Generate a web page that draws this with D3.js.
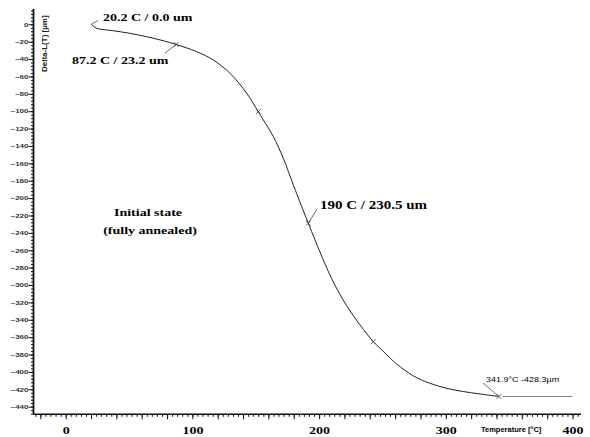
<!DOCTYPE html>
<html>
<head>
<meta charset="UTF-8">
<script src="https://d3js.org/d3.v7.min.js"></script>
<style>
  body { margin: 0; background: #fff; }
  svg { display: block; }
  .serif { font-family: "Liberation Serif", "Times New Roman", serif; font-weight: bold; }
  .sans { font-family: "Liberation Sans", Arial, sans-serif; }
</style>
</head>
<body>
<svg id="chart" width="590" height="437"></svg>
<script>
// dilatometer curve
const tempC  = [20.2, 24.5, 37.6, 50.7, 63.9, 77.0, 87.2, 103.4, 116.5, 129.7, 142.9, 152.0, 156.0, 163.9, 171.7, 179.6, 186.3, 191.5, 196.8, 203.3, 211.2, 221.8, 232.3, 242.8, 248.1, 256.0, 261.2, 274.3, 287.5, 300.7, 313.8, 327.0, 341.9];
const deltaL = [0, -4.6, -7.4, -10.4, -14.3, -18.9, -23.2, -31.5, -41.1, -56.4, -79.4, -100.6, -110.1, -129.3, -154.0, -184.5, -209.9, -229.0, -248.2, -271.2, -296.5, -324.0, -346.0, -365.2, -372.8, -384.0, -391.0, -404.5, -413.1, -418.9, -422.6, -425.4, -428.3];
// holding segment after the end point
const holdT = [345.0, 400.0];
const holdL = [-428.3, -428.3];
// points with a cross marker
const markerT = [87.2, 152.0, 191.5, 242.8, 341.9];

const xLabelTicks = [0, 100, 200, 300, 400];
const yLabelTicks = d3.range(0, -441, -20);

const svg = d3.select('#chart');
const x = d3.scaleLinear().domain([-25.4, 406.7]).range([33.5, 581]);
const y = d3.scaleLinear().domain([-448.8, 17.6]).range([414.3, 9]);

const pts = tempC.map((t, i) => [t, deltaL[i]]);
const line = d3.line().x(d => x(d[0])).y(d => y(d[1])).curve(d3.curveCatmullRom);

// curve
svg.append('path')
    .datum(pts)
    .attr('d', line)
    .attr('fill', 'none')
    .attr('stroke', '#222')
    .attr('stroke-width', 1);

svg.append('path')
    .datum(holdT.map((t, i) => [t, holdL[i]]))
    .attr('d', d3.line().x(d => x(d[0])).y(d => y(d[1])))
    .attr('fill', 'none')
    .attr('stroke', '#888')
    .attr('stroke-width', 1.2);

// small crosses on the curve
markerT.forEach(t => {
    const i = tempC.indexOf(t);
    const px = x(t), py = y(deltaL[i]);
    svg.append('path')
        .attr('d', `M${px - 2.5},${py - 2.5}L${px + 2.5},${py + 2.5}M${px - 2.5},${py + 2.5}L${px + 2.5},${py - 2.5}`)
        .attr('stroke', '#444')
        .attr('stroke-width', 0.8);
});

// x axis
const xAxisY = y.range()[0];
svg.append('g')
    .attr('transform', `translate(0,${xAxisY})`)
    .call(d3.axisBottom(x).tickValues(d3.range(-24, 405, 4)).tickSize(2.5).tickFormat(''))
    .call(g => g.select('.domain').remove());
svg.append('g')
    .attr('transform', `translate(0,${xAxisY})`)
    .call(d3.axisBottom(x).tickValues(d3.range(-20, 401, 20)).tickSize(5).tickFormat(''))
    .call(g => g.select('.domain').remove());
const xl = svg.append('g')
    .attr('transform', `translate(0,${xAxisY})`)
    .call(d3.axisBottom(x).tickValues(xLabelTicks).tickSize(0).tickPadding(0));
xl.select('.domain').remove();
xl.selectAll('text')
    .attr('class', 'serif')
    .attr('y', 0).attr('dy', 0)
    .attr('font-size', 14)
    .attr('transform', 'translate(0,20) scale(1,0.75)');

// y axis
const yAxisX = x.range()[0];
svg.append('g')
    .attr('transform', `translate(${yAxisX},0)`)
    .call(d3.axisLeft(y).tickValues(d3.range(16, -449, -4)).tickSize(2.5).tickFormat(''))
    .call(g => g.select('.domain').remove());
const yl = svg.append('g')
    .attr('transform', `translate(${yAxisX},0)`)
    .call(d3.axisLeft(y).tickValues(yLabelTicks).tickSize(5).tickPadding(0));
yl.select('.domain').remove();
yl.selectAll('text')
    .attr('class', 'sans')
    .attr('font-weight', 'bold')
    .attr('font-size', 8)
    .attr('fill', '#333')
    .attr('transform', 'scale(1,0.7)');

svg.selectAll('.tick line').attr('stroke', '#111');

// axis lines
svg.append('line')
    .attr('x1', yAxisX).attr('x2', yAxisX)
    .attr('y1', y.range()[1]).attr('y2', xAxisY)
    .attr('stroke', '#111').attr('stroke-width', 1.8);
svg.append('line')
    .attr('x1', yAxisX).attr('x2', x.range()[1])
    .attr('y1', xAxisY).attr('y2', xAxisY)
    .attr('stroke', '#111').attr('stroke-width', 1.6);

// texts
function label(str, px, py, cls, size, sy, anchor, weight) {
    svg.append('text')
        .attr('class', cls)
        .attr('font-size', size)
        .attr('font-weight', weight || null)
        .attr('text-anchor', anchor || 'start')
        .attr('transform', `translate(${px},${py}) scale(1,${sy})`)
        .text(str);
}
function leader(x1, y1, x2, y2) {
    svg.append('line')
        .attr('x1', x1).attr('y1', y1).attr('x2', x2).attr('y2', y2)
        .attr('stroke', '#444').attr('stroke-width', 0.8);
}

svg.append('text')
    .attr('class', 'sans')
    .attr('font-weight', 'bold')
    .attr('font-size', 8)
    .attr('fill', '#222')
    .attr('transform', `translate(47,72) rotate(-90)`)
    .text('Delta-L(T)  [µm]');

label('Temperature  [°C]', 481, 432, 'sans', 7.5, 0.85, 'start', 'bold');

leader(x(tempC[0]), y(deltaL[0]), 98, 20.5);
label('20.2 C / 0.0 um', 103, 20.7, 'serif', 14, 0.78);

leader(x(87.2), y(-23.2), 165, 53);
label('87.2 C / 23.2 um', 72, 64.3, 'serif', 14, 0.78);

leader(x(191.5), y(-229), 317, 209);
label('190 C / 230.5 um', 320, 208.5, 'serif', 15, 0.78);

leader(x(341.9), y(-428.3), 483, 383);
label('341.9°C  -428.3µm', 486, 381.5, 'sans', 9, 0.8);

label('Initial state', 148, 216, 'serif', 14, 0.78, 'middle');
label('(fully annealed)', 150, 234, 'serif', 14, 0.78, 'middle');
</script>
</body>
</html>
